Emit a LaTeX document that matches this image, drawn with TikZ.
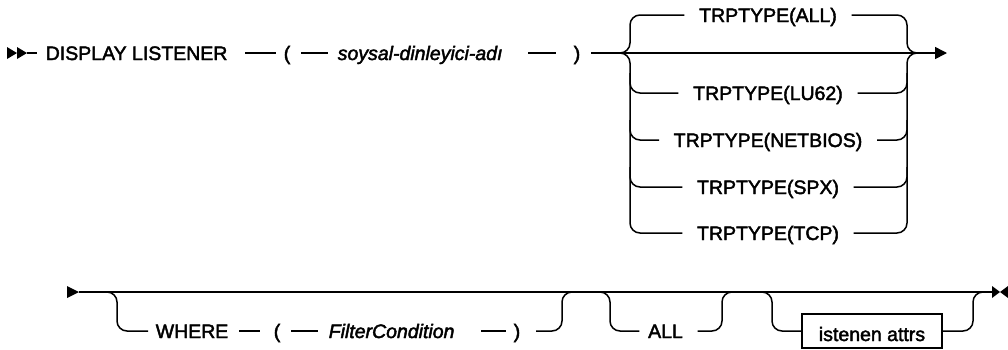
\documentclass[tikz,border=0pt]{standalone}
\usepackage{fontspec}
\setmainfont{Liberation Sans}[FakeBold=2.2]
\usetikzlibrary{arrows.meta}
\begin{document}
\begin{tikzpicture}[x=1pt,y=-1pt,line width=1.5pt,
  every node/.style={font=\fontsize{19.5}{22}\selectfont,inner sep=0pt,text height=14pt,text depth=0pt},
  rc/.style={rounded corners=10pt},
  opt/.style={inner xsep=14pt},
  kwbox/.style={draw,minimum width=140pt,minimum height=34pt,text height=20pt},
  endtip/.style={-{Triangle[length=12pt,width=12pt]}}]
\useasboundingbox (0,0) rectangle (1008,349);
% ---------- row 1 ----------
\fill (7,47) -- (17,53) -- (7,59) -- cycle;
\fill (17,47) -- (27,53) -- (17,59) -- cycle;
\node[anchor=west] (dl) at (45,53) {DISPLAY LISTENER};
\node (lp1) at (287,53) {(};
\node[anchor=west] (name) at (337,53) {\itshape soysal-dinleyici-adı};
\node (rp1) at (577,53) {)};
\coordinate (s1) at (27,53);
\coordinate (e1) at (947,53);
\draw (s1) -- ([xshift=-8pt]dl.west);
\draw ([xshift=17pt]dl.east) -- ([xshift=-7pt]lp1.west);
\draw ([xshift=10pt]lp1.east) -- ([xshift=-9pt]name.west);
\draw ([xshift=25pt]name.east) -- ([xshift=-17pt]rp1.west);
\draw[endtip] ([xshift=10pt]rp1.east) -- (e1);
% TRPTYPE choice
\node[opt] (tall) at (768,15) {TRPTYPE(ALL)};
\node[opt] (tlu) at (768,93) {TRPTYPE(LU62)};
\node[opt] (tnb) at (768,140) {TRPTYPE(NETBIOS)};
\node[opt] (tspx) at (768,187) {TRPTYPE(SPX)};
\node[opt] (ttcp) at (768,233) {TRPTYPE(TCP)};
\coordinate (j1) at (620,53);
\coordinate (j2) at (917,53);
\draw[rc] (j1) -| (630,15) -- (tall.west);
\draw[rc] (j1) -| (630,233) -- (ttcp.west);
\draw[rc] (630,73) |- (tlu.west);
\draw[rc] (630,120) |- (tnb.west);
\draw[rc] (630,167) |- (tspx.west);
\draw[rc] (tall.east) -| (907,53) -- (j2);
\draw[rc] (ttcp.east) -| (907,53) -- (j2);
\draw[rc] (tlu.east) -| (907,73);
\draw[rc] (tnb.east) -| (907,120);
\draw[rc] (tspx.east) -| (907,167);
% ---------- row 2 ----------
\fill (67,286) -- (79,292) -- (67,298) -- cycle;
\fill (992,286) -- (1000,292) -- (992,298) -- cycle;
\fill (1008,286) -- (1000,292) -- (1008,298) -- cycle;
\coordinate (s2) at (79,292);
\coordinate (e2) at (993,292);
\draw (s2) -- (e2);
% WHERE group
\node[anchor=west] (wh) at (155,331) {WHERE};
\node (lp2) at (277,331) {(};
\node[anchor=west] (fc) at (328,331) {\itshape FilterCondition};
\node (rp2) at (517,331) {)};
\draw[rc] (107,292) -| (117,331) -- ([xshift=-7pt]wh.west);
\draw ([xshift=10pt]wh.east) -- ([xshift=-13pt]lp2.west);
\draw ([xshift=10pt]lp2.east) -- ([xshift=-10pt]fc.west);
\draw ([xshift=26pt]fc.east) -- ([xshift=-7pt]rp2.west);
\draw[rc] ([xshift=15pt]rp2.east) -| (562,292) -- (572,292);
% ALL group
\node (all2) at (665.5,331) {ALL};
\draw[rc] (600,292) -| (610,331) -- ([xshift=-8pt]all2.west);
\draw[rc] ([xshift=14pt]all2.east) -| (722,292) -- (732,292);
% attrs group
\node[kwbox] (box) at (872,331) {istenen attrs};
\draw[rc] (762,292) -| (772,331) -- (box.west);
\draw[rc] (box.east) -| (973,292) -- (983,292);
\end{tikzpicture}
\end{document}
